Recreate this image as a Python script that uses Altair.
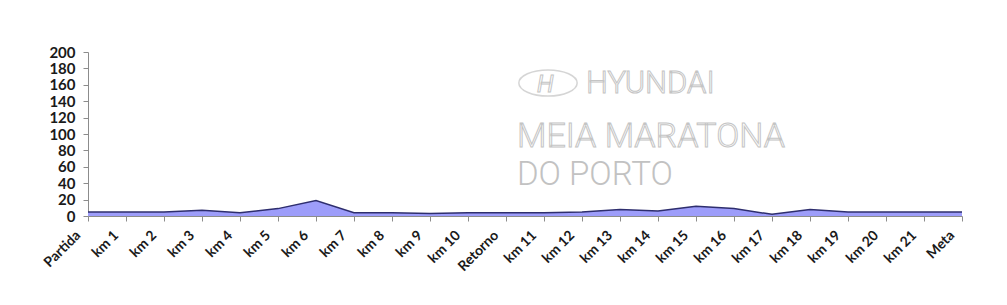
import altair as alt
import pandas as pd

categories = ["Partida", "km 1", "km 2", "km 3", "km 4", "km 5", "km 6", "km 7",
              "km 8", "km 9", "km 10", "Retorno", "km 11", "km 12", "km 13",
              "km 14", "km 15", "km 16", "km 17", "km 18", "km 19", "km 20",
              "km 21", "Meta"]
altitude = [5, 5, 5, 7, 4, 9, 19, 4, 4, 3, 4, 4, 4, 5, 8, 6, 12, 9, 2, 8, 5, 5, 5, 5]
y_ticks = list(range(0, 201, 20))

wm_hyundai = ["HYUNDAI"]
wm_meia = ["MEIA MARATONA"]
wm_porto = ["DO PORTO"]

df = pd.DataFrame({"ponto": categories, "altitude": altitude})

x_enc = alt.X("ponto:N", sort=categories,
              scale=alt.Scale(type="point", padding=0),
              axis=alt.Axis(title=None, labelAngle=-45, labelAlign="right",
                            labelBaseline="middle", labelFont="Lato",
                            labelFontWeight="bold", labelFontSize=14,
                            labelColor="#1a1a1a", labelPadding=12,
                            labelOffset=-10, tickSize=5, tickColor="#8c8c8c",
                            domainColor="#8c8c8c", grid=False))
y_enc = alt.Y("altitude:Q", scale=alt.Scale(domain=[0, 200], nice=False),
              axis=alt.Axis(title=None, values=y_ticks, labelFont="Lato",
                            labelFontWeight="bold", labelFontSize=15,
                            labelColor="#1a1a1a", labelPadding=8, tickSize=5,
                            tickColor="#8c8c8c", domainColor="#8c8c8c",
                            grid=False))

area = alt.Chart(df).mark_area(
    color="#9d9dfa", opacity=1,
    line={"color": "#2e2e6e", "strokeWidth": 1.5}
).encode(x=x_enc, y=y_enc)


def wm(text_list, x, y, size, fill, stroke=None, weight=300, italic=False):
    props = dict(align="left", baseline="alphabetic", font="Roboto",
                 fontSize=size, fill=fill, fontWeight=weight)
    if italic:
        props["fontStyle"] = "italic"
    if stroke:
        props["stroke"] = stroke
        props["strokeWidth"] = 1
    return alt.Chart(pd.DataFrame({"t": text_list})).mark_text(**props).encode(
        x=alt.value(x), y=alt.value(y), text="t:N")


logo = alt.Chart(pd.DataFrame({"t": ["H"]})).mark_point(
    shape="M-1,0 A1,0.45 0 1,0 1,0 A1,0.45 0 1,0 -1,0 Z",
    filled=False, stroke="#c4c4c4", strokeWidth=1.5, size=3400
).encode(x=alt.value(460), y=alt.value(31))

layers = [
    logo,
    wm(["H"], 449, 40, 24, "#ffffff", "#c4c4c4", weight=400, italic=True),
    wm(wm_hyundai, 498, 41, 31, "#ffffff", "#c4c4c4"),
    wm(wm_meia, 429, 95, 34, "#ffffff", "#c4c4c4"),
    wm(wm_porto, 429, 133, 33, "#c2c2c2"),
    area,
]

chart = alt.layer(*layers).properties(
    width=874, height=164,
    autosize=alt.AutoSizeParams(type="none"),
    padding={"left": 88, "top": 52, "right": 45, "bottom": 89},
    background="white"
).configure_view(stroke=None)

chart.save("out.html", embed_options={"renderer": "svg", "actions": False})
